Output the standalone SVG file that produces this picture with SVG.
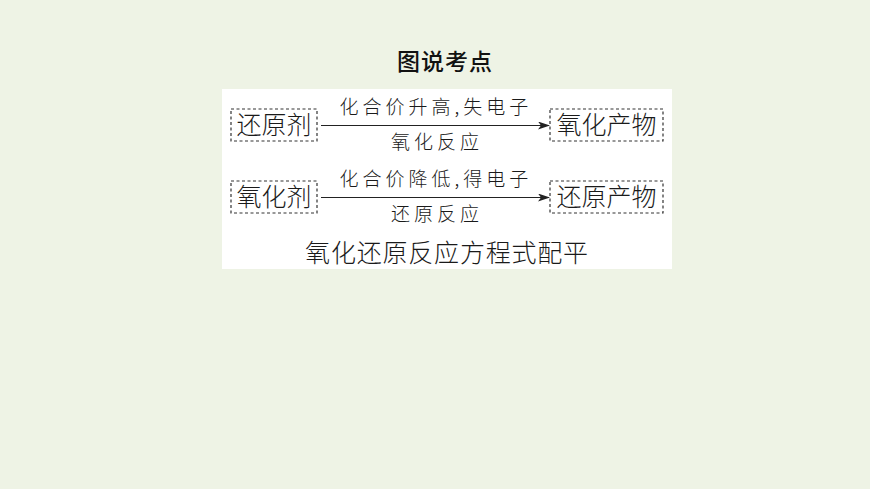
<svg xmlns="http://www.w3.org/2000/svg" width="870" height="489" viewBox="0 0 870 489">
<defs>
<style>
.box{fill:none;stroke:#333;stroke-width:1.2;stroke-dasharray:3 2.5}
.box-t{font-size:25px;font-weight:300;text-anchor:middle;font-family:"Noto Sans CJK SC",sans-serif;fill:#1a1a1a}
.lbl{font-size:19px;font-weight:300;text-anchor:middle;letter-spacing:4px;font-family:"Noto Sans CJK SC",sans-serif;fill:#1a1a1a}
.arr{stroke:#222;stroke-width:1.2;fill:none}
</style>
<marker id="ah" markerWidth="12" markerHeight="8" refX="11" refY="4" orient="auto" markerUnits="userSpaceOnUse">
<path d="M0,0 L12,4 L0,8 L3,4 Z" fill="#222"/>
</marker>
</defs>
<rect width="870" height="489" fill="#EEF3E5"/>
<text x="445" y="70" font-family="Noto Sans CJK SC,sans-serif" font-size="23" font-weight="500" text-anchor="middle" letter-spacing="1" fill="#111">图说考点</text>
<rect x="222" y="89" width="450" height="180" fill="#FFFFFF"/>
<g id="n1"><rect class="box" x="231" y="109" width="86" height="32"/><text class="box-t" x="274" y="134">还原剂</text></g>
<g id="n2"><rect class="box" x="550" y="109" width="113" height="32"/><text class="box-t" x="606.5" y="134">氧化产物</text></g>
<g id="n3"><rect class="box" x="231" y="181" width="86" height="32"/><text class="box-t" x="274" y="206">氧化剂</text></g>
<g id="n4"><rect class="box" x="550" y="181" width="113" height="32"/><text class="box-t" x="606.5" y="206">还原产物</text></g>
<g id="edges">
<line class="arr" x1="321" y1="125.5" x2="549" y2="125.5" marker-end="url(#ah)"/>
<line class="arr" x1="321" y1="197.5" x2="549" y2="197.5" marker-end="url(#ah)"/>
<text class="lbl" x="436" y="114">化合价升高,失电子</text>
<text class="lbl" x="437" y="149">氧化反应</text>
<text class="lbl" x="436" y="186">化合价降低,得电子</text>
<text class="lbl" x="437" y="221">还原反应</text>
</g>
<text x="447" y="262" font-family="Noto Sans CJK SC,sans-serif" font-size="25" font-weight="300" text-anchor="middle" letter-spacing="0.8" fill="#1a1a1a">氧化还原反应方程式配平</text>
</svg>
